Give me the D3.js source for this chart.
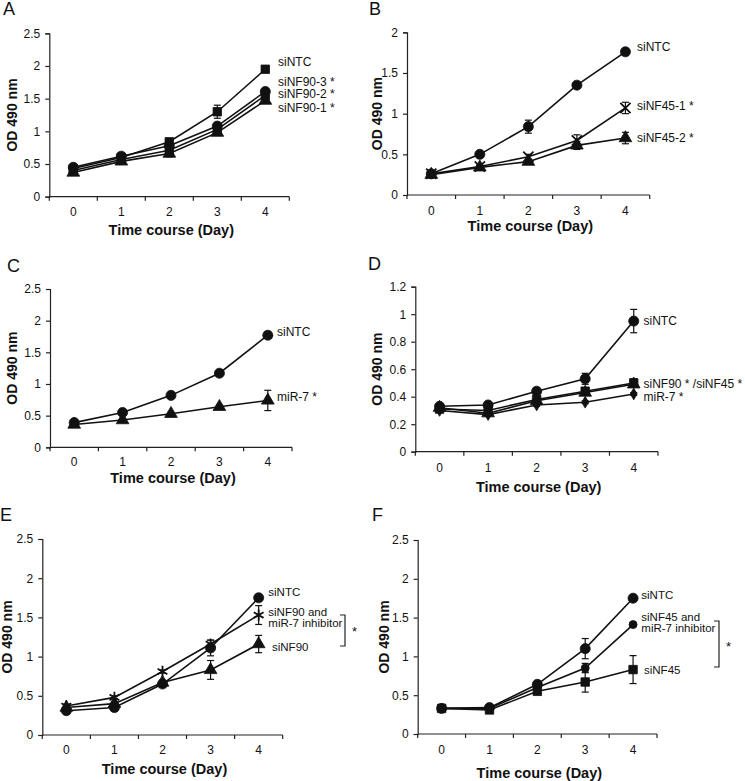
<!DOCTYPE html>
<html><head><meta charset="utf-8">
<script src="https://cdn.jsdelivr.net/npm/d3@7"></script>
<style>body{margin:0;background:#fff} svg{display:block} text{font-family:Arial,"Liberation Sans",sans-serif;fill:#111}</style>
</head><body><svg id="c" width="745" height="781"></svg>
<script>
// ---------- data ----------
const days = ["0", "1", "2", "3", "4"];
const yTicks25 = [0, 0.5, 1, 1.5, 2, 2.5];
const yTicks2 = [0, 0.5, 1, 1.5, 2];
const yTicks12 = [0, 0.2, 0.4, 0.6, 0.8, 1, 1.2];

// Panel A
const aNTC = [0.43, 0.60, 0.84, 1.30, 1.95];
const aNTCErr = [0.02, 0.02, 0.03, 0.10, 0.03];
const aNF90_3 = [0.45, 0.62, 0.78, 1.08, 1.61];
const aNF90_3Err = [0.02, 0.02, 0.03, 0.04, 0.03];
const aNF90_2 = [0.40, 0.57, 0.71, 1.03, 1.55];
const aNF90_2Err = [0.02, 0.02, 0.03, 0.03, 0.03];
const aNF90_1 = [0.37, 0.54, 0.66, 0.98, 1.47];
const aNF90_1Err = [0.02, 0.02, 0.05, 0.03, 0.03];
const aLabels = ["siNTC", "siNF90-3 *", "siNF90-2 *", "siNF90-1 *"];

// Panel B
const bNTC = [0.26, 0.50, 0.84, 1.35, 1.76];
const bNTCErr = [0.02, 0.02, 0.08, 0.03, 0.03];
const bNF45_1 = [0.26, 0.35, 0.47, 0.67, 1.07];
const bNF45_1Err = [0.02, 0.02, 0.03, 0.07, 0.07];
const bNF45_2 = [0.25, 0.34, 0.41, 0.61, 0.70];
const bNF45_2Err = [0.02, 0.02, 0.03, 0.05, 0.07];
const bLabels = ["siNTC", "siNF45-1 *", "siNF45-2 *"];

// Panel C
const cNTC = [0.39, 0.55, 0.82, 1.17, 1.77];
const cNTCErr = [0.02, 0.02, 0.02, 0.03, 0.05];
const cMiR7 = [0.36, 0.43, 0.53, 0.64, 0.74];
const cMiR7Err = [0.02, 0.02, 0.02, 0.03, 0.16];
const cLabels = ["siNTC", "miR-7 *"];

// Panel D
const dNTC = [0.33, 0.34, 0.44, 0.53, 0.95];
const dNTCErr = [0.01, 0.01, 0.02, 0.04, 0.085];
const dNF90 = [0.31, 0.30, 0.38, 0.44, 0.50];
const dNF90Err = [0.01, 0.01, 0.02, 0.02, 0.03];
const dNF45 = [0.32, 0.28, 0.37, 0.43, 0.49];
const dNF45Err = [0.01, 0.01, 0.02, 0.02, 0.02];
const dMiR7 = [0.30, 0.27, 0.34, 0.36, 0.42];
const dMiR7Err = [0.01, 0.01, 0.01, 0.01, 0.01];
const dLabels = ["siNTC", "siNF90 * /siNF45 *", "miR-7 *"];

// Panel E
const eNTC = [0.31, 0.35, 0.65, 1.11, 1.75];
const eNTCErr = [0.02, 0.02, 0.03, 0.10, 0.03];
const eNF90Inh = [0.37, 0.48, 0.81, 1.16, 1.53];
const eNF90InhErr = [0.02, 0.02, 0.02, 0.05, 0.12];
const eNF90 = [0.35, 0.40, 0.67, 0.83, 1.16];
const eNF90Err = [0.02, 0.02, 0.03, 0.12, 0.11];
const eLabels = ["siNTC", "siNF90 and", "miR-7 inhibitor", "siNF90"];

// Panel F
const fNTC = [0.33, 0.34, 0.64, 1.10, 1.75];
const fNTCErr = [0.02, 0.02, 0.02, 0.13, 0.03];
const fNF45Inh = [0.33, 0.33, 0.60, 0.85, 1.41];
const fNF45InhErr = [0.02, 0.02, 0.02, 0.06, 0.02];
const fNF45 = [0.33, 0.31, 0.55, 0.67, 0.83];
const fNF45Err = [0.02, 0.02, 0.02, 0.13, 0.18];
const fLabels = ["siNTC", "siNF45 and", "miR-7 inhibitor", "siNF45"];

// ---------- layout ----------
const panels = [
  {letter: "A", lx: 3, ly: 15, x0: 49.3, x1: 289.3, yT: 33.3, yB: 196.7, max: 2.5, ticks: yTicks25,
   ytx: 12, labelsDy: [15, 33], fs: 12,
   series: [
     {v: aNTC, e: aNTCErr, m: "square"}, {v: aNF90_3, e: aNF90_3Err, m: "circle"},
     {v: aNF90_2, e: aNF90_2Err, m: "square"}, {v: aNF90_1, e: aNF90_1Err, m: "triangle"}],
   labels: aLabels.map((t, i) => ({t, x: 278, y: [61.7, 81.7, 94.3, 107.7][i]}))},
  {letter: "B", lx: 369, ly: 15, x0: 407, x1: 649.7, yT: 32.3, yB: 195, max: 2, ticks: yTicks2,
   ytx: 377, labelsDy: [15.5, 31], fs: 12,
   series: [
     {v: bNTC, e: bNTCErr, m: "circle"}, {v: bNF45_1, e: bNF45_1Err, m: "times"},
     {v: bNF45_2, e: bNF45_2Err, m: "triangle"}],
   labels: bLabels.map((t, i) => ({t, x: 637, y: [46.7, 106, 137.7][i]}))},
  {letter: "C", lx: 7, ly: 272, x0: 50, x1: 292, yT: 289, yB: 447.3, max: 2.5, ticks: yTicks25,
   ytx: 12, labelsDy: [14.5, 30.5], fs: 12,
   series: [{v: cNTC, e: cNTCErr, m: "circle"}, {v: cMiR7, e: cMiR7Err, m: "triangle"}],
   labels: cLabels.map((t, i) => ({t, x: 277, y: [331.7, 396.7][i]}))},
  {letter: "D", lx: 368, ly: 270, x0: 415.3, x1: 658, yT: 286.7, yB: 451.7, max: 1.2, ticks: yTicks12,
   ytx: 377, labelsDy: [16.5, 35], fs: 12,
   series: [
     {v: dNTC, e: dNTCErr, m: "circle"}, {v: dNF90, e: dNF90Err, m: "square"},
     {v: dNF45, e: dNF45Err, m: "triangle"}, {v: dMiR7, e: dMiR7Err, m: "diamond"}],
   labels: dLabels.map((t, i) => ({t, x: 643.5, y: [321, 383.5, 396.5][i]}))},
  {letter: "E", lx: 0, ly: 521, x0: 42.3, x1: 282.7, yT: 539, yB: 735, max: 2.5, ticks: yTicks25,
   ytx: 7, labelsDy: [15, 33.5], fs: 11.5,
   series: [
     {v: eNTC, e: eNTCErr, m: "circle"}, {v: eNF90Inh, e: eNF90InhErr, m: "asterisk"},
     {v: eNF90, e: eNF90Err, m: "triangle"}],
   labels: eLabels.map((t, i) => ({t, x: [268.3, 268.3, 268.3, 272][i], y: [591.7, 611.7, 623.3, 647.3][i]})),
   bracket: {x: 345, y0: 615, y1: 646, star: [352, 636]}},
  {letter: "F", lx: 372, ly: 521, x0: 417.7, x1: 657, yT: 540, yB: 734, max: 2.5, ticks: yTicks25,
   ytx: 384, labelsDy: [16, 38.5], fs: 11.5,
   series: [
     {v: fNTC, e: fNTCErr, m: "circle"}, {v: fNF45Inh, e: fNF45InhErr, m: "smallcircle"},
     {v: fNF45, e: fNF45Err, m: "square"}],
   labels: fLabels.map((t, i) => ({t, x: [641.3, 641.3, 641.3, 644][i], y: [595, 616.7, 628.3, 670][i]})),
   bracket: {x: 719, y0: 621, y1: 667, star: [726, 651]}}
];

const svg = d3.select("#c");
const symType = {
  circle: [d3.symbolCircle, 80, true], square: [d3.symbolSquare, 72, true],
  triangle: [d3.symbolTriangle, 70, true], diamond: [d3.symbolDiamond, 40, true],
  smallcircle: [d3.symbolCircle, 50, true], times: [d3.symbolTimes, 70, false],
  asterisk: [d3.symbolAsterisk, 90, false]
};

panels.forEach(p => {
  const g = svg.append("g");
  const x = d3.scaleBand().domain(days).range([p.x0, p.x1]);
  const y = d3.scaleLinear().domain([0, p.max]).range([p.yB, p.yT]);
  const cx = d => x(d) + x.bandwidth() / 2;

  g.append("text").attr("x", p.lx).attr("y", p.ly).attr("font-size", 18).text(p.letter);

  // y axis
  const ya = g.append("g").attr("transform", `translate(${p.x0},0)`)
    .call(d3.axisLeft(y).tickValues(p.ticks).tickSize(4).tickPadding(5).tickFormat(d3.format("~g")));
  ya.select(".domain").attr("stroke", "#222").attr("stroke-width", 1.2);
  ya.selectAll(".tick line").attr("stroke", "#222").attr("stroke-width", 1.2);
  ya.selectAll("text").attr("font-size", 12).attr("font-family", "Arial, 'Liberation Sans', sans-serif").attr("fill", "#222");

  // x axis: ticks at band boundaries
  const xa = g.append("g").attr("transform", `translate(0,${p.yB})`);
  xa.append("line").attr("x1", p.x0).attr("x2", p.x1).attr("stroke", "#222").attr("stroke-width", 1.2);
  const bounds = days.map(d => x(d)).concat([p.x1]);
  xa.selectAll(".bt").data(bounds).join("line")
    .attr("x1", d => d).attr("x2", d => d).attr("y1", 0).attr("y2", 4)
    .attr("stroke", "#222").attr("stroke-width", 1.2);
  xa.selectAll(".xl").data(days).join("text")
    .attr("x", cx).attr("y", p.labelsDy[0] + 4.3).attr("text-anchor", "middle")
    .attr("font-size", 12).attr("fill", "#222").text(d => d);
  g.append("text").attr("x", (p.x0 + p.x1) / 2 + 2).attr("y", p.yB + p.labelsDy[1] + 5)
    .attr("text-anchor", "middle").attr("font-size", 14.5).attr("font-weight", "bold")
    .text("Time course (Day)");
  g.append("text").attr("transform", `translate(${p.ytx},${(p.yT + p.yB) / 2}) rotate(-90)`)
    .attr("text-anchor", "middle").attr("dominant-baseline", "central")
    .attr("font-size", 14).attr("font-weight", "bold").text("OD 490 nm");

  // series
  p.series.forEach(s => {
    const pts = s.v.map((v, i) => ({d: days[i], v, e: s.e[i]}));
    g.append("g").selectAll("g").data(pts).join("g").each(function (d) {
      const eg = d3.select(this);
      eg.append("line").attr("x1", cx(d.d)).attr("x2", cx(d.d)).attr("y1", y(d.v - d.e)).attr("y2", y(d.v + d.e));
      eg.append("line").attr("x1", cx(d.d) - 3.5).attr("x2", cx(d.d) + 3.5).attr("y1", y(d.v - d.e)).attr("y2", y(d.v - d.e));
      eg.append("line").attr("x1", cx(d.d) - 3.5).attr("x2", cx(d.d) + 3.5).attr("y1", y(d.v + d.e)).attr("y2", y(d.v + d.e));
    }).selectAll("line").attr("stroke", "#111").attr("stroke-width", 1.2);
    g.append("path").datum(pts)
      .attr("d", d3.line().x(d => cx(d.d)).y(d => y(d.v)))
      .attr("fill", "none").attr("stroke", "#111").attr("stroke-width", 1.6);
    const [type, size, filled] = symType[s.m];
    g.append("g").selectAll("path").data(pts).join("path")
      .attr("transform", d => `translate(${cx(d.d)},${y(d.v)})`)
      .attr("d", d3.symbol().type(type).size(size))
      .attr("fill", filled ? "#111" : "none").attr("stroke", "#111")
      .attr("stroke-width", filled ? 0.8 : 1.8);
  });

  // labels
  g.selectAll(".lab").data(p.labels).join("text")
    .attr("x", d => d.x).attr("y", d => d.y).attr("dominant-baseline", "central")
    .attr("font-size", p.fs).attr("fill", "#222").text(d => d.t);

  if (p.bracket) {
    const b = p.bracket;
    g.append("path").attr("d", `M${b.x - 5},${b.y0}H${b.x}V${b.y1}H${b.x - 5}`)
      .attr("fill", "none").attr("stroke", "#222").attr("stroke-width", 1.2);
    g.append("text").attr("x", b.star[0]).attr("y", b.star[1]).attr("font-size", 13).attr("fill", "#222").text("*");
  }
});
</script></body></html>
